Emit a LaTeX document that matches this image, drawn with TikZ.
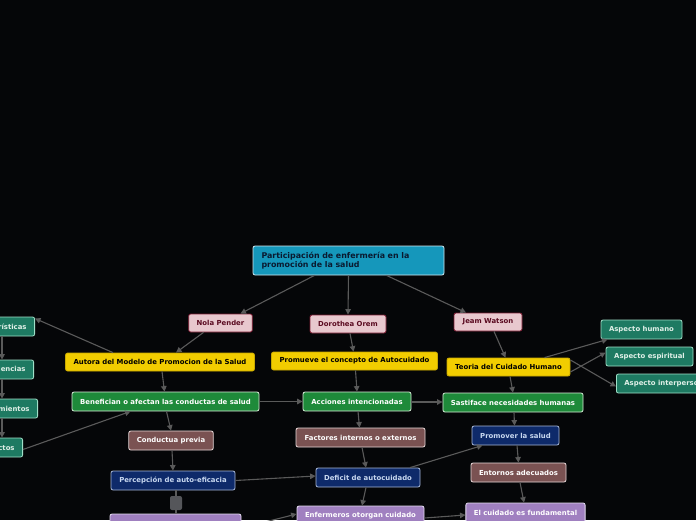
\documentclass[tikz,border=0pt]{standalone}
\usepackage{fontspec}
\setmainfont{DejaVu Sans}
\usetikzlibrary{arrows.meta}
\definecolor{bg}{HTML}{050608}
\definecolor{conn}{HTML}{5A5A5A}
\definecolor{titlefill}{HTML}{1597BB}
\definecolor{titleline}{HTML}{D0E8F0}
\definecolor{titletext}{HTML}{0A1A30}
\definecolor{pinkfill}{HTML}{E8C8CE}
\definecolor{pinkline}{HTML}{7A1A30}
\definecolor{pinktext}{HTML}{5A0A20}
\definecolor{yelfill}{HTML}{F2CD00}
\definecolor{yelline}{HTML}{C8A800}
\definecolor{tealfill}{HTML}{1E7A62}
\definecolor{tealline}{HTML}{A0E0C8}
\definecolor{tealtext}{HTML}{E0F0E8}
\definecolor{grnfill}{HTML}{1E8A3A}
\definecolor{grnline}{HTML}{D8ECD8}
\definecolor{brnfill}{HTML}{7A5252}
\definecolor{brnline}{HTML}{E8D8D8}
\definecolor{navyfill}{HTML}{0E2A6A}
\definecolor{navyline}{HTML}{A8B8D8}
\definecolor{navytext}{HTML}{C8D8F0}
\definecolor{purfill}{HTML}{A080C0}
\definecolor{purline}{HTML}{E4DCF0}
\definecolor{blobfill}{HTML}{55565A}
\tikzset{
  base/.style={rounded corners=2pt, line width=0.8pt, inner sep=0pt, inner xsep=8pt,
    font=\bfseries\fontsize{6.9}{8}\selectfont, align=center},
  titlebox/.style={base, fill=titlefill, draw=titleline, text=titletext, align=left,
    font=\bfseries\fontsize{7.9}{9.6}\selectfont, text width=174pt},
  pinkbox/.style={base, fill=pinkfill, draw=pinkline, text=pinktext},
  yelbox/.style={base, fill=yelfill, draw=yelline, text=black},
  tealbox/.style={base, fill=tealfill, draw=tealline, text=tealtext, minimum height=19pt},
  grnbox/.style={base, fill=grnfill, draw=grnline, text=white, minimum height=19pt},
  brnbox/.style={base, fill=brnfill, draw=brnline, text=white, minimum height=19pt},
  navybox/.style={base, fill=navyfill, draw=navyline, text=navytext, minimum height=19pt},
  purbox/.style={base, fill=purfill, draw=purline, text=white, minimum height=19pt},
  conn/.style={draw=conn, line width=1.1pt, -{Triangle[length=5.5pt,width=5.5pt]}},
  plain/.style={draw=conn, line width=1.1pt}
}
\begin{document}
\begin{tikzpicture}[x=1pt,y=-1pt]
\fill[bg] (0,0) rectangle (696,520);
\useasboundingbox (0,0) rectangle (696,520);
\clip (0,0) rectangle (696,520);

% nodes
\node[titlebox, minimum width=191pt, minimum height=29pt] (title) at (348.5,260.5)
  {Participación de enfermería en la\\promoción de la salud};
\node[pinkbox, minimum width=63pt, minimum height=18pt] (nola) at (220.5,323) {Nola Pender};
\node[pinkbox, minimum width=76pt, minimum height=18pt] (orem) at (348,324) {Dorothea Orem};
\node[pinkbox, minimum width=68pt, minimum height=18pt] (watson) at (488,322) {Jeam Watson};

\node[yelbox, minimum width=188pt, minimum height=18pt] (autora) at (160,362) {Autora del Modelo de Promocion de la Salud};
\node[yelbox, minimum width=165pt, minimum height=18pt] (promueve) at (354.5,361) {Promueve el concepto de Autocuidado};
\node[yelbox, minimum width=123pt, minimum height=18pt] (teoria) at (508.5,367) {Teoria del Cuidado Humano};

\node[tealbox, minimum width=81pt] (ahum) at (641.5,329.5) {Aspecto humano};
\node[tealbox, minimum width=87pt] (aesp) at (649.5,356.5) {Aspecto espiritual};
\node[tealbox, anchor=west] (aint) at (616,383.5) {Aspecto interpersonal};

\node[tealbox, anchor=east] (carac) at (35,326.5) {Características};
\node[tealbox, anchor=east] (exper) at (34,369.5) {Experiencias};
\node[tealbox, anchor=east] (conoc) at (38,408.5) {Conocimientos};
\node[tealbox, anchor=east] (afect) at (23,447.5) {Afectos};

\node[grnbox, minimum width=187pt] (benef) at (165.5,401.5) {Benefician o afectan las conductas de salud};
\node[grnbox, minimum width=108pt] (acciones) at (357,401.5) {Acciones intencionadas};
\node[grnbox, minimum width=140pt] (sastif) at (513,402.5) {Sastiface necesidades humanas};

\node[brnbox, minimum width=84pt] (conductua) at (171,440.5) {Conductua previa};
\node[brnbox, minimum width=129pt] (factores) at (360.5,437.5) {Factores internos o externos};
\node[navybox, minimum width=87pt] (promover) at (515.5,435.5) {Promover la salud};

\node[navybox, minimum width=124pt] (percep) at (173,480.5) {Percepción de auto-eficacia};
\node[navybox, minimum width=104pt] (deficit) at (368,477.5) {Deficit de autocuidado};
\node[brnbox, minimum width=95pt] (entornos) at (518.5,472.5) {Entornos adecuados};

\node[purbox, minimum width=127pt] (enferm) at (360.5,515.5) {Enfermeros otorgan cuidado};
\node[purbox, minimum width=119pt] (cuidado) at (525.5,512.5) {El cuidado es fundamental};
\node[purbox, minimum width=131pt] (purleft) at (175.5,523.5) {};

\node[fill=blobfill, rounded corners=2pt, minimum width=12pt, minimum height=14pt, inner sep=0pt] (blob) at (176,503) {};

% connectors
\draw[conn] ([xshift=-34pt]title.south) -- ([xshift=20pt]nola.north);
\draw[conn] (title.south) -- (orem.north);
\draw[conn] ([xshift=38pt]title.south) -- ([xshift=-22pt]watson.north);

\draw[conn] ([xshift=-17pt]nola.south) -- ([xshift=16pt]autora.north);
\draw[conn] ([xshift=2pt]orem.south) -- ([xshift=-1pt]promueve.north);
\draw[conn] ([xshift=6pt]watson.south) -- ([xshift=-3pt]teoria.north);

\draw[conn] ([xshift=-47pt]autora.north) -- ([yshift=8pt]carac.east);
\draw[conn] ([xshift=-33pt]carac.south east) -- ([xshift=-32pt]exper.north east);
\draw[conn] ([xshift=-32pt]exper.south east) -- ([xshift=-36pt]conoc.north east);
\draw[conn] ([xshift=-36pt]conoc.south east) -- ([xshift=-21pt]afect.north east);
\draw[conn] ([yshift=-2pt]afect.east) -- ([xshift=-35pt]benef.south);

\draw[conn] ([xshift=2pt]autora.south) -- ([xshift=-1pt]benef.north);
\draw[conn] (benef.east) -- (acciones.west);
\draw[conn] ([xshift=1pt]benef.south) -- (conductua.north);
\draw[conn] ([xshift=1pt]promueve.south) -- ([xshift=0pt]acciones.north);
\draw[conn] ([yshift=-0.5pt]acciones.east) -- ([yshift=0.5pt]sastif.west);
\draw[conn] ([xshift=1pt]acciones.south) -- ([xshift=-1pt]factores.north);

\draw[conn] ([xshift=1.5pt]teoria.south) -- ([xshift=0pt]sastif.north);
\draw[conn] ([xshift=36pt]teoria.north) -- ([xshift=-34pt]ahum.south);
\draw[conn] ([yshift=-5pt]teoria.east) -- ([yshift=4pt]aesp.west);
\draw[conn] ([yshift=7pt]teoria.east) -- ([yshift=-3pt]aint.west);

\draw[conn] ([xshift=1pt]sastif.south) -- ([xshift=-1pt]promover.north);
\draw[conn] ([xshift=1.5pt]promover.south) -- (entornos.north);
\draw[conn] ([xshift=1.5pt]entornos.south) -- ([xshift=-1.5pt]cuidado.north);

\draw[conn] ([xshift=1pt]conductua.south) -- (percep.north);
\draw[conn] (percep.east) -- ([yshift=1.5pt]deficit.west);
\draw[conn] ([xshift=1.5pt]factores.south) -- ([xshift=-2pt]deficit.north);
\draw[conn] ([xshift=42pt]deficit.north) -- ([xshift=-33pt]promover.south);
\draw[conn] ([xshift=-2pt]deficit.south) -- ([xshift=1.5pt]enferm.north);
\draw[conn] ([yshift=-4.5pt]purleft.east) -- ([yshift=1.5pt]enferm.west);
\draw[conn] ([yshift=-2.5pt]enferm.east) -- ([yshift=-2.5pt]cuidado.west);

\draw[plain] ([xshift=3pt]percep.south) -- (blob.north);
\draw[plain] (blob.south) -- ([xshift=0.5pt]purleft.north);
\end{tikzpicture}
\end{document}
